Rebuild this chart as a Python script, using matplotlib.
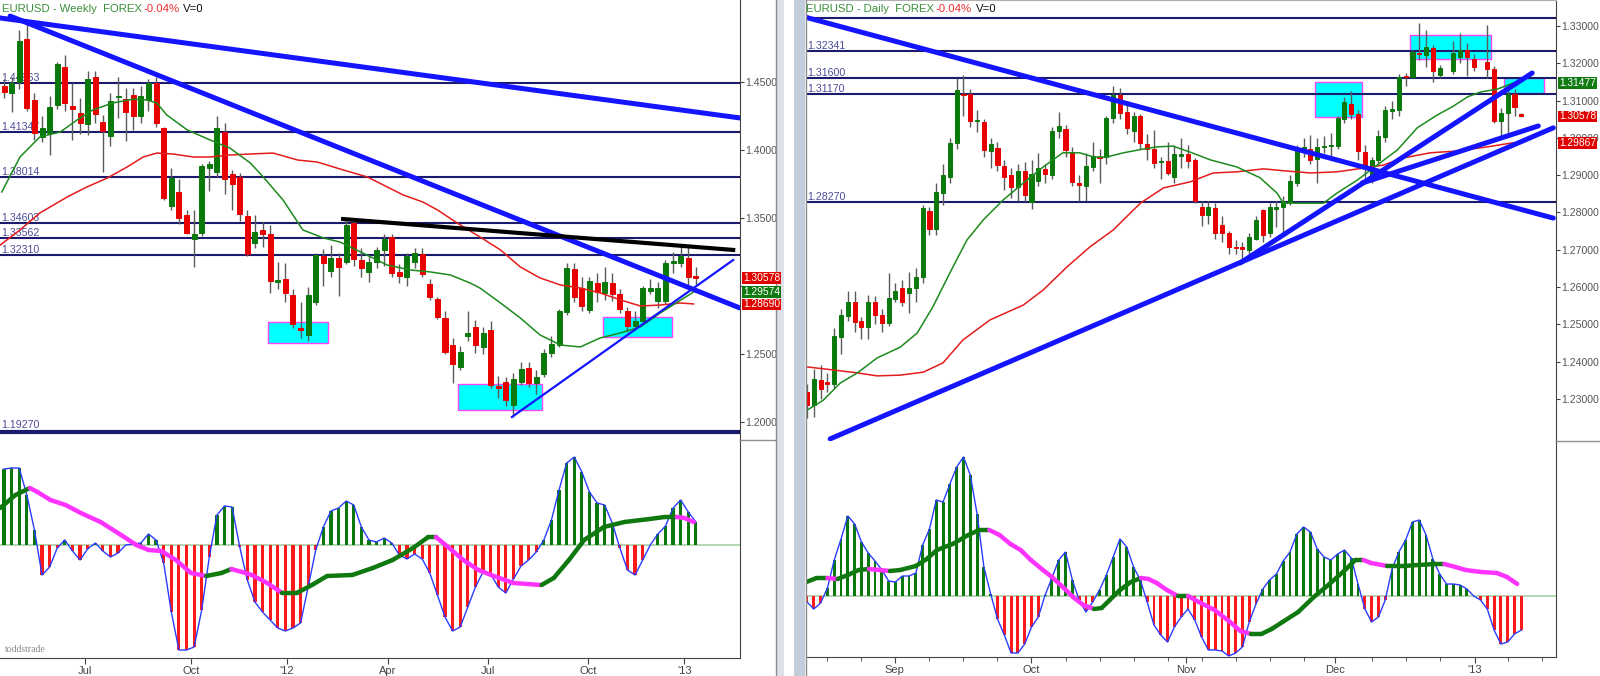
import numpy as np
import matplotlib.pyplot as plt
from matplotlib.collections import LineCollection
from matplotlib.patches import Rectangle
from matplotlib.lines import Line2D

plt.rcParams['font.family'] = ['Liberation Sans', 'DejaVu Sans']

nan = float('nan')

# ---------------- weekly EURUSD (Apr 2011 - Jan 2013) ----------------
wk_open = [1.4471, 1.4419, 1.4500, 1.4816, 1.4368, 1.4096, 1.4125, 1.4331, 1.4611, 1.4324,
           1.4272, 1.4192, 1.4537, 1.4206, 1.4103, 1.4390, 1.4375, 1.4405, 1.4250, 1.4368,
           1.4493, 1.4162, 1.3589, 1.3692, 1.3523, 1.3346, 1.3390, 1.3868, 1.3839, 1.4133,
           1.3824, 1.3802, 1.3515, 1.3317, 1.3413, 1.3383, 1.3030, 1.3052, 1.2935, 1.2692,
           1.2641, 1.2883, 1.3221, 1.3111, 1.3207, 1.3177, 1.3464, 1.3192, 1.3104, 1.3177,
           1.3266, 1.3361, 1.3104, 1.3067, 1.3177, 1.3236, 1.3016, 1.2905, 1.2766, 1.2567,
           1.2406, 1.2634, 1.2700, 1.2553, 1.2678, 1.2266, 1.2295, 1.2126, 1.2295, 1.2398,
           1.2288, 1.2354, 1.2509, 1.2567, 1.2810, 1.3126, 1.2986, 1.2825, 1.3023, 1.2950,
           1.3023, 1.2942, 1.2817, 1.2707, 1.2744, 1.2964, 1.2891, 1.2891, 1.3170, 1.3170,
           1.3207, 1.3074]
wk_high = [1.4520, 1.4540, 1.4883, 1.4934, 1.4420, 1.4250, 1.4400, 1.4647, 1.4699, 1.4490,
           1.4383, 1.4581, 1.4581, 1.4260, 1.4420, 1.4540, 1.4456, 1.4456, 1.4470, 1.4520,
           1.4540, 1.4170, 1.3868, 1.3790, 1.3560, 1.3560, 1.3895, 1.3920, 1.4250, 1.4200,
           1.3850, 1.3830, 1.3560, 1.3520, 1.3470, 1.3450, 1.3180, 1.3170, 1.2980, 1.2880,
           1.2990, 1.3240, 1.3270, 1.3300, 1.3240, 1.3490, 1.3480, 1.3280, 1.3230, 1.3290,
           1.3380, 1.3380, 1.3160, 1.3240, 1.3280, 1.3280, 1.3050, 1.2920, 1.2820, 1.2620,
           1.2560, 1.2820, 1.2750, 1.2700, 1.2740, 1.2340, 1.2330, 1.2360, 1.2440, 1.2440,
           1.2380, 1.2540, 1.2630, 1.2830, 1.3170, 1.3170, 1.3070, 1.3070, 1.3100, 1.3140,
           1.3100, 1.2980, 1.2850, 1.2820, 1.3000, 1.3050, 1.3030, 1.3190, 1.3250, 1.3310,
           1.3300, 1.3140]
wk_low = [1.4380, 1.4280, 1.4450, 1.4290, 1.4074, 1.4060, 1.3964, 1.4300, 1.4290, 1.4074,
          1.4120, 1.4111, 1.4200, 1.3839, 1.4030, 1.4236, 1.4067, 1.4150, 1.4200, 1.4290,
          1.4170, 1.3630, 1.3560, 1.3460, 1.3380, 1.3141, 1.3370, 1.3700, 1.3800, 1.3680,
          1.3560, 1.3480, 1.3220, 1.3280, 1.3290, 1.2950, 1.2980, 1.2880, 1.2690, 1.2619,
          1.2600, 1.2860, 1.3000, 1.3070, 1.2930, 1.3160, 1.3150, 1.3070, 1.3030, 1.3130,
          1.3150, 1.3070, 1.3020, 1.3000, 1.3130, 1.3070, 1.2900, 1.2760, 1.2500, 1.2288,
          1.2380, 1.2600, 1.2510, 1.2500, 1.2250, 1.2180, 1.2120, 1.2040, 1.2270, 1.2260,
          1.2210, 1.2330, 1.2480, 1.2550, 1.2790, 1.2880, 1.2820, 1.2800, 1.2880, 1.2900,
          1.2890, 1.2800, 1.2660, 1.2680, 1.2730, 1.2940, 1.2840, 1.2870, 1.3100, 1.3140,
          1.2990, 1.3000]
wk_close = [1.4427, 1.4493, 1.4802, 1.4309, 1.4125, 1.4162, 1.4317, 1.4633, 1.4346, 1.4302,
            1.4199, 1.4522, 1.4265, 1.4140, 1.4361, 1.4397, 1.4280, 1.4250, 1.4397, 1.4493,
            1.4199, 1.3648, 1.3795, 1.3501, 1.3390, 1.3383, 1.3883, 1.3898, 1.4162, 1.3787,
            1.3751, 1.3530, 1.3236, 1.3398, 1.3383, 1.3038, 1.3045, 1.2950, 1.2722, 1.2678,
            1.2935, 1.3229, 1.3170, 1.3207, 1.3141, 1.3449, 1.3199, 1.3133, 1.3177, 1.3266,
            1.3346, 1.3096, 1.3074, 1.3221, 1.3243, 1.3089, 1.2920, 1.2773, 1.2516, 1.2428,
            1.2516, 1.2656, 1.2567, 1.2656, 1.2273, 1.2251, 1.2163, 1.2317, 1.2391, 1.2288,
            1.2332, 1.2509, 1.2575, 1.2817, 1.3133, 1.2920, 1.2854, 1.3038, 1.2957, 1.3030,
            1.2942, 1.2832, 1.2707, 1.2744, 1.2986, 1.2986, 1.2986, 1.3170, 1.3184, 1.3221,
            1.3067, 1.3058]

# moving averages (at these bar positions)
wk_ma_fast_x = [-0.3, 2.1, 4.7, 7.4, 9.6, 11.7, 14.3, 17.0, 18.8, 20.1, 21.4, 24.1, 27.1, 29.7,
                32.4, 34.1, 36.7, 39.3, 42.0, 44.2, 47.2, 50.4, 53.4, 56.1, 58.7, 61.3, 62.6,
                65.3, 67.9, 70.5, 73.2, 75.8, 78.4, 81.1, 83.7, 86.3, 88.6, 90.7]
wk_ma_fast = [1.3692, 1.3949, 1.4096, 1.4133, 1.4221, 1.4295, 1.4346, 1.4375, 1.4368, 1.4346,
              1.4258, 1.4148, 1.4074, 1.4015, 1.3905, 1.3802, 1.3633, 1.3413, 1.3354, 1.3324,
              1.3243, 1.3155, 1.3119, 1.3104, 1.3082, 1.3023, 1.2986, 1.2876, 1.2766, 1.2641,
              1.2567, 1.2553, 1.2619, 1.2656, 1.2700, 1.2802, 1.2883, 1.2957]
wk_ma_slow_x = [-0.5, 2.1, 4.7, 8.3, 10.9, 13.6, 16.2, 18.3, 20.1, 22.2, 24.9, 27.1, 29.7, 32.4,
                35.4, 38.6, 41.2, 44.6, 47.8, 50.4, 52.5, 55.1, 57.0, 59.6, 62.6, 65.3, 67.9,
                70.5, 73.2, 75.8, 78.4, 81.1, 83.7, 86.3, 88.9, 90.7]
wk_ma_slow = [1.3302, 1.3413, 1.3537, 1.3655, 1.3729, 1.3795, 1.3876, 1.3949, 1.3978, 1.3971,
              1.3949, 1.3949, 1.3964, 1.3971, 1.3978, 1.3927, 1.3912, 1.3854, 1.3802, 1.3729,
              1.3670, 1.3618, 1.3560, 1.3464, 1.3361, 1.3266, 1.3141, 1.3060, 1.3008, 1.2986,
              1.2950, 1.2898, 1.2854, 1.2861, 1.2876, 1.2869]

wk_hist = [76, 77, 77, 50, 15, -30, -22, -3, 5, -6,
           -15, -4, 2, -6, -12, -8, 0, 1, 2, 11,
           5, -18, -67, -105, -105, -102, -65, -12, 30, 39,
           38, -2, -35, -57, -67, -75, -83, -86, -83, -78,
           -42, -5, 18, 34, 37, 44, 40, 18, 5, 3,
           7, 2, -10, -14, -9, -14, -28, -50, -72, -86,
           -82, -62, -42, -27, -29, -42, -48, -34, -21, -15,
           -7, 5, 25, 55, 82, 88, 73, 53, 42, 40,
           22, -3, -25, -30, -15, 0, 11, 19, 37, 45,
           33, 23]
wk_sig_x = [-0.5, 1.5, 3.4, 4.4, 6.1, 8.1, 10.1, 12.7, 15.4, 17.4, 19.0, 20.7, 22.6, 24.6, 26.6,
            28.6, 29.9, 31.3, 32.6, 34.6, 36.6, 38.5, 40.5, 42.5, 45.8, 48.5, 51.1, 53.8, 55.8,
            56.8, 58.4, 60.4, 62.4, 64.4, 67.0, 70.7, 72.3, 74.3, 76.3, 78.9, 81.6, 84.9, 86.9,
            88.5, 89.5, 90.7]
wk_sig = [37, 50, 57, 53, 45, 40, 32, 23, 10, 0, -5, -6, -15, -28, -31,
          -28, -24, -27, -30, -38, -48, -48, -40, -31, -30, -23, -15, -3, 8,
          8, -2, -15, -25, -31, -38, -40, -33, -15, 5, 18, 23, 26, 28,
          28, 27, 23]

wk_levels = [1.44963, 1.41347, 1.38014, 1.34603, 1.33562, 1.32310]
wk_floor = 1.19270
wk_thick_lines = [((-0.53, 1.4971), (96.8, 1.4236)), ((0.8, 1.4985), (96.8, 1.2839))]
wk_black_line = ((44.6, 1.3493), (95.9, 1.3266))
wk_thin_line = ((66.8, 1.2038), (95.9, 1.3192))
wk_boxes = [(34.7, 42.6, 1.2582, 1.2736), (59.7, 70.8, 1.2090, 1.2281), (78.8, 87.8, 1.2626, 1.2773)]
wk_tags = [(1.30578, '#e00000'), (1.29574, '#0f7a0f'), (1.28690, '#e00000')]
wk_yticks = [1.20, 1.25, 1.30, 1.35, 1.40, 1.45]
wk_ytick_lab = ['1.20000', '1.25000', '', '1.35000', '1.40000', '1.45000']
wk_tick_pos = [10.7, 24.6, 37.2, 50.5, 63.7, 76.8, 89.5]
wk_tick_lab = ['Jul', 'Oct', "'12", 'Apr', 'Jul', 'Oct', "'13"]

# ---------------- daily EURUSD (Aug 2012 - Jan 2013) ----------------
dl_open = [1.2319, 1.2284, 1.2351, 1.2346, 1.2340, 1.2466, 1.2523, 1.2560, 1.2509, 1.2493,
           1.2560, 1.2525, 1.2504, 1.2568, 1.2598, 1.2584, 1.2598, 1.2627, 1.2804, 1.2756,
           1.2852, 1.2895, 1.2986, 1.3118, 1.3118, 1.3045, 1.3043, 1.2965, 1.2973, 1.2925,
           1.2901, 1.2868, 1.2911, 1.2828, 1.2885, 1.2917, 1.2901, 1.3019, 1.3024, 1.2962,
           1.2879, 1.2871, 1.2922, 1.2949, 1.2949, 1.3053, 1.3114, 1.3070, 1.3019, 1.3059,
           1.2984, 1.2970, 1.2935, 1.2938, 1.2895, 1.2951, 1.2957, 1.2941, 1.2815, 1.2793,
           1.2812, 1.2766, 1.2745, 1.2708, 1.2708, 1.2699, 1.2729, 1.2807, 1.2745, 1.2809,
           1.2815, 1.2828, 1.2879, 1.2970, 1.2970, 1.2943, 1.2976, 1.2978, 1.2978, 1.3051,
           1.3091, 1.3064, 1.2962, 1.2887, 1.2941, 1.3002, 1.3072, 1.3075, 1.3166, 1.3164,
           1.3228, 1.3222, 1.3241, 1.3169, nan, 1.3179, 1.3217, 1.3236, 1.3212, nan,
           1.3203, 1.3185, 1.3045, 1.3067, 1.3118, 1.3064]
dl_high = [1.2340, 1.2380, 1.2390, 1.2370, 1.2490, 1.2540, 1.2590, 1.2590, 1.2520, 1.2580,
           1.2575, 1.2540, 1.2638, 1.2610, 1.2620, 1.2640, 1.2650, 1.2820, 1.2815, 1.2880,
           1.2930, 1.3000, 1.3160, 1.3169, 1.3130, 1.3075, 1.3050, 1.3000, 1.2990, 1.2940,
           1.2920, 1.2930, 1.2935, 1.2940, 1.2960, 1.2930, 1.3030, 1.3070, 1.3035, 1.2975,
           1.2900, 1.2960, 1.2990, 1.2970, 1.3060, 1.3140, 1.3135, 1.3100, 1.3070, 1.3065,
           1.3010, 1.3020, 1.2950, 1.2990, 1.2980, 1.3000, 1.2980, 1.2945, 1.2830, 1.2830,
           1.2825, 1.2790, 1.2750, 1.2725, 1.2720, 1.2745, 1.2790, 1.2810, 1.2825, 1.2830,
           1.2845, 1.2900, 1.2980, 1.3000, 1.3008, 1.3000, 1.3005, 1.3013, 1.3060, 1.3110,
           1.3126, 1.3075, 1.2980, 1.2950, 1.3020, 1.3085, 1.3100, 1.3170, 1.3175, 1.3235,
           1.3308, 1.3290, 1.3250, 1.3195, nan, 1.3260, 1.3280, 1.3255, 1.3225, nan,
           1.3303, 1.3192, 1.3080, 1.3135, 1.3130, 1.3066]
dl_low = [1.2250, 1.2252, 1.2300, 1.2320, 1.2330, 1.2420, 1.2510, 1.2480, 1.2460, 1.2460,
          1.2500, 1.2480, 1.2495, 1.2560, 1.2550, 1.2530, 1.2560, 1.2610, 1.2740, 1.2740,
          1.2820, 1.2880, 1.2970, 1.3060, 1.3030, 1.3015, 1.2950, 1.2920, 1.2910, 1.2860,
          1.2840, 1.2830, 1.2830, 1.2810, 1.2870, 1.2880, 1.2890, 1.3000, 1.2950, 1.2870,
          1.2830, 1.2830, 1.2910, 1.2880, 1.2930, 1.3040, 1.3050, 1.3010, 1.2990, 1.2970,
          1.2940, 1.2920, 1.2890, 1.2900, 1.2880, 1.2920, 1.2920, 1.2825, 1.2765, 1.2770,
          1.2730, 1.2720, 1.2690, 1.2690, 1.2667, 1.2690, 1.2725, 1.2720, 1.2735, 1.2760,
          1.2740, 1.2820, 1.2870, 1.2950, 1.2930, 1.2879, 1.2960, 1.2940, 1.2970, 1.3040,
          1.3050, 1.2940, 1.2880, 1.2880, 1.2930, 1.2990, 1.3050, 1.3060, 1.3140, 1.3160,
          1.3210, 1.3190, 1.3150, 1.3160, nan, 1.3170, 1.3200, 1.3165, 1.3180, nan,
          1.3160, 1.3040, 1.3005, 1.3010, 1.3060, 1.3056]
dl_close = [1.2284, 1.2354, 1.2327, 1.2340, 1.2469, 1.2525, 1.2560, 1.2506, 1.2493, 1.2560,
            1.2525, 1.2504, 1.2571, 1.2590, 1.2560, 1.2598, 1.2627, 1.2812, 1.2756, 1.2855,
            1.2901, 1.2986, 1.3128, 1.3114, 1.3045, 1.3048, 1.2968, 1.2984, 1.2927, 1.2895,
            1.2868, 1.2911, 1.2847, 1.2903, 1.2919, 1.2903, 1.3019, 1.3032, 1.2968, 1.2882,
            1.2874, 1.2925, 1.2951, 1.2946, 1.3053, 1.3114, 1.3067, 1.3027, 1.3059, 1.2986,
            1.2970, 1.2933, 1.2938, 1.2906, 1.2957, 1.2957, 1.2938, 1.2831, 1.2793, 1.2815,
            1.2745, 1.2745, 1.2708, 1.2705, 1.2702, 1.2734, 1.2780, 1.2740, 1.2815, 1.2815,
            1.2831, 1.2885, 1.2970, 1.2976, 1.2941, 1.2976, 1.2978, 1.2981, 1.3053, 1.3096,
            1.3064, 1.2965, 1.2925, 1.2941, 1.3005, 1.3075, 1.3077, 1.3164, 1.3164, 1.3230,
            1.3225, 1.3244, 1.3179, 1.3187, nan, 1.3228, 1.3236, 1.3217, 1.3190, nan,
            1.3185, 1.3045, 1.3067, 1.3118, 1.3083, 1.3058]

dl_ma_fast_x = [0.0, 2.4, 4.9, 7.4, 10.3, 13.7, 16.2, 18.5, 21.0, 23.5, 25.9, 28.8, 31.8, 34.7,
                37.6, 40.1, 42.1, 44.1, 46.5, 49.4, 51.5, 53.8, 56.3, 59.3, 63.2, 66.6, 69.1,
                70.0, 72.9, 75.9, 77.9, 80.9, 83.8, 86.8, 89.7, 92.6, 95.0, 97.1, 99.0, 101.5, 103.8]
dl_ma_fast = [1.2270, 1.2297, 1.2343, 1.2370, 1.2410, 1.2439, 1.2477, 1.2547, 1.2638, 1.2726,
              1.2780, 1.2833, 1.2879, 1.2922, 1.2960, 1.2960, 1.2949, 1.2949, 1.2960, 1.2970,
              1.2976, 1.2978, 1.2962, 1.2941, 1.2922, 1.2893, 1.2852, 1.2825, 1.2825, 1.2825,
              1.2852, 1.2887, 1.2927, 1.2968, 1.3027, 1.3061, 1.3085, 1.3110, 1.3123, 1.3131, 1.3147]
dl_ma_slow_x = [0.0, 3.8, 7.4, 10.3, 13.7, 17.1, 20.0, 22.9, 26.9, 31.8, 34.7, 38.2, 41.6, 45.0,
                49.0, 52.4, 56.3, 59.7, 63.2, 67.1, 70.6, 74.0, 77.9, 81.8, 84.7, 87.6, 91.6,
                95.6, 100.0, 103.8]
dl_ma_slow = [1.2386, 1.2378, 1.2370, 1.2362, 1.2364, 1.2372, 1.2397, 1.2458, 1.2512, 1.2552,
              1.2592, 1.2654, 1.2708, 1.2753, 1.2825, 1.2866, 1.2882, 1.2906, 1.2909, 1.2917,
              1.2911, 1.2906, 1.2909, 1.2919, 1.2927, 1.2946, 1.2960, 1.2965, 1.2976, 1.2987]

dl_hist = [-6, -13, -7, 8, 36, 57, 80, 72, 54, 43,
           35, 26, 15, 14, 20, 20, 23, 51, 67, 96,
           94, 112, 129, 139, 121, 82, 29, 2, -23, -39,
           -57, -57, -48, -31, -21, 1, 18, 36, 44, 16,
           -4, -16, -6, 6, 21, 39, 57, 49, 29, 16,
           -6, -29, -39, -46, -31, -21, -13, -24, -41, -54,
           -54, -55, -60, -57, -51, -26, -8, 7, 16, 22,
           35, 44, 62, 69, 64, 47, 39, 36, 42, 46,
           38, 12, -13, -26, -21, -4, 27, 44, 56, 74,
           76, 61, 37, 22, 12, 12, 11, 7, 0, -4,
           -13, -34, -48, -46, -38, -34]
dl_sig_x = [-0.1, 1.4, 3.0, 4.5, 6.0, 7.6, 9.1, 10.6, 12.2, 13.7, 16.0, 17.6, 19.1, 21.4, 23.7,
            25.3, 26.8, 28.3, 29.9, 31.4, 32.9, 34.5, 36.0, 37.6, 39.1, 40.6, 42.2, 43.3, 44.5,
            46.0, 47.6, 49.1, 50.2, 51.4, 52.9, 54.5, 56.0, 57.6, 59.9, 62.2, 63.7, 65.3, 66.8,
            68.3, 69.9, 72.2, 74.5, 76.8, 79.1, 80.6, 81.8, 82.9, 85.3, 87.6, 89.9, 92.2, 93.7,
            95.3, 96.8, 99.1, 101.4, 102.9, 104.4]
dl_sig = [14, 18, 18, 17, 21, 26, 27, 26, 25, 26, 30, 37, 46, 52, 61,
          66, 66, 61, 52, 46, 36, 27, 19, 9, -1, -9, -13, -12, -4,
          6, 14, 18, 17, 13, 6, 0, 0, -6, -14, -26, -35, -38, -38,
          -33, -26, -16, -1, 12, 26, 36, 36, 33, 30, 30, 31, 32, 32,
          29, 26, 24, 23, 19, 12]

dl_levels = [1.32341, 1.31600, 1.31170, 1.28270]
dl_top_level = 1.33210
dl_thick_lines = [((-0.3, 1.3324), (109.7, 1.2785)), ((3.4, 1.2193), (109.7, 1.3027)),
                  ((63.7, 1.2665), (106.6, 1.3174)), ((81.6, 1.2879), (107.5, 1.3032))]
dl_boxes = [(74.7, 81.6, 1.3056, 1.3150), (88.7, 100.6, 1.3212, 1.3276), (102.5, 108.4, 1.3120, 1.3161)]
dl_tags = [(1.31477, '#0f7a0f'), (1.30578, '#e00000'), (1.29867, '#e00000')]
dl_yticks = [1.23, 1.24, 1.25, 1.26, 1.27, 1.28, 1.29, 1.30, 1.31, 1.32, 1.33]
dl_tick_pos = [12.9, 32.9, 55.7, 77.6, 98.2]
dl_tick_lab = ['Sep', 'Oct', 'Nov', 'Dec', "'13"]
dl_minor_pos = [3, 8, 18, 23, 28, 38, 43, 48, 53, 58, 63, 68, 73, 83, 88, 93, 103, 108]

# ---------------- styling ----------------
UP = '#0a780a'
DOWN = '#e80000'
WICK = '#5a5a5a'
LEVEL = '#1b1b6e'
LEVEL_TXT = '#4d4d99'
TREND = '#1414ff'
SIG_UP = '#0f780f'
SIG_DN = '#ff33ff'
OUTLINE = '#2a3cff'
AXIS_TXT = '#555555'

W, H = 1600, 676
fig = plt.figure(figsize=(16, 6.76), dpi=100)
fig.patch.set_facecolor('white')


def px_box(x0, y0, x1, y1):
    return [x0 / W, 1 - y1 / H, (x1 - x0) / W, (y1 - y0) / H]


def fig_line(x0, y0, x1, y1, color, lw):
    fig.add_artist(Line2D([x0 / W, x1 / W], [1 - y0 / H, 1 - y1 / H],
                          transform=fig.transFigure, color=color, lw=lw))


def draw_candles(ax, o, h, l, c, width):
    o, h, l, c = (np.array(a, dtype=float) for a in (o, h, l, c))
    x = np.arange(len(o))
    ok = ~np.isnan(o)
    x, o, h, l, c = x[ok], o[ok], h[ok], l[ok], c[ok]
    cols = [UP if cc >= oo else DOWN for oo, cc in zip(o, c)]
    ax.vlines(x, l, h, color=WICK, lw=1, zorder=3)
    ax.bar(x, c - o, bottom=o, width=width, color=cols, edgecolor=cols, linewidth=0.7, zorder=3)


def draw_tags(ax, tags, x_px):
    # price tags on the axis, nudged apart so the boxes stack like the terminal does
    prev = None
    for val, col in tags:
        y = ax.transData.transform((0, val))[1]
        if prev is not None and y > prev - 12.5:
            y = prev - 12.5
        prev = y
        fig.text(x_px / W, y / H, f'{val:.5f}', ha='left', va='center', fontsize=7.4,
                 color='white', zorder=10,
                 bbox=dict(boxstyle='square,pad=0.08', fc=col, ec='none'))


def draw_price(ax, levels, boxes):
    for x0, x1, y0, y1 in boxes:
        ax.add_patch(Rectangle((x0, y0), x1 - x0, y1 - y0, facecolor='#00ffff',
                               edgecolor='#ff44ff', lw=1, zorder=1))
    for lv in levels:
        ax.axhline(lv, color=LEVEL, lw=1.5, zorder=2)
        ax.text(0.002, lv, f'{lv:.5f}', transform=ax.get_yaxis_transform(),
                ha='left', va='bottom', fontsize=7.7, color=LEVEL_TXT, zorder=2)
    ax.yaxis.tick_right()
    ax.tick_params(axis='y', direction='out', length=3, pad=1, labelsize=7.6,
                   colors='#444444', labelcolor=AXIS_TXT)
    ax.set_xticks([])
    for s in ('left', 'top', 'bottom'):
        ax.spines[s].set_visible(False)
    ax.spines['right'].set_color('#444444')


def draw_osc(ax, hist, sx, sy, width):
    x = np.arange(len(hist))
    h = np.array(hist, dtype=float)
    cols = [UP if v >= 0 else '#ff1a1a' for v in h]
    ax.axhline(0, color='#a8cfa8', lw=1.2, zorder=1)
    ax.bar(x, h, width=width, color=cols, linewidth=0, zorder=2)
    ax.plot(x, h, color=OUTLINE, lw=1, zorder=3)
    pts = np.column_stack([sx, sy])
    segs = np.stack([pts[:-1], pts[1:]], axis=1)
    scol = [SIG_UP if b[1] >= a[1] else SIG_DN for a, b in zip(pts[:-1], pts[1:])]
    ax.add_collection(LineCollection(segs, colors=scol, linewidths=3.2,
                                     capstyle='round', zorder=4))
    ax.set_yticks([])
    ax.spines['left'].set_visible(False)
    ax.spines['top'].set_visible(False)
    ax.spines['right'].set_color('#444444')
    ax.spines['bottom'].set_color('#444444')
    ax.tick_params(axis='x', direction='out', length=4, labelsize=8, colors='#444444',
                   labelcolor='#444444', pad=2)


# ---------------- weekly panel ----------------
ax_wp = fig.add_axes(px_box(0, 0, 740, 440))
ax_wo = fig.add_axes(px_box(0, 440, 740, 658))
draw_price(ax_wp, wk_levels, wk_boxes)
ax_wp.axhline(wk_floor, color=LEVEL, lw=3, zorder=2)
ax_wp.text(0.002, wk_floor + 0.0015, f'{wk_floor:.5f}', transform=ax_wp.get_yaxis_transform(),
           ha='left', va='bottom', fontsize=7.7, color=LEVEL_TXT)
ax_wp.plot(wk_ma_slow_x, wk_ma_slow, color='#e51c1c', lw=1.1, zorder=3.5)
ax_wp.plot(wk_ma_fast_x, wk_ma_fast, color='#1d8a1d', lw=1.1, zorder=3.5)
draw_candles(ax_wp, wk_open, wk_high, wk_low, wk_close, 0.66)
for (x0, y0), (x1, y1) in wk_thick_lines:
    ax_wp.plot([x0, x1], [y0, y1], color=TREND, lw=3.6, solid_capstyle='round', zorder=5)
(bx0, by0), (bx1, by1) = wk_black_line
ax_wp.plot([bx0, bx1], [by0, by1], color='black', lw=3, zorder=5)
(tx0, ty0), (tx1, ty1) = wk_thin_line
ax_wp.plot([tx0, tx1], [ty0, ty1], color=TREND, lw=1.6, zorder=5)
ax_wp.set_xlim(-0.53, 96.8)
ax_wp.set_ylim(1.1869, 1.5103)
ax_wp.set_yticks(wk_yticks)
ax_wp.set_yticklabels(wk_ytick_lab)

draw_osc(ax_wo, wk_hist, wk_sig_x, wk_sig, 0.42)
ax_wo.set_xlim(-0.53, 96.8)
ax_wo.set_ylim(-113, 105)
ax_wo.set_xticks(wk_tick_pos)
ax_wo.set_xticklabels(wk_tick_lab)

# ---------------- daily panel ----------------
ax_dp = fig.add_axes(px_box(806, 0, 1556, 441))
ax_do = fig.add_axes(px_box(806, 441, 1556, 657))
draw_price(ax_dp, dl_levels, dl_boxes)
ax_dp.axhline(dl_top_level, color=LEVEL, lw=1.5, zorder=2)
ax_dp.plot(dl_ma_slow_x, dl_ma_slow, color='#e51c1c', lw=1.1, zorder=3.5)
ax_dp.plot(dl_ma_fast_x, dl_ma_fast, color='#1d8a1d', lw=1.1, zorder=3.5)
draw_candles(ax_dp, dl_open, dl_high, dl_low, dl_close, 0.6)
for (x0, y0), (x1, y1) in dl_thick_lines:
    ax_dp.plot([x0, x1], [y0, y1], color=TREND, lw=3.6, solid_capstyle='round', zorder=5)
ax_dp.set_xlim(-0.15, 110.1)
ax_dp.set_ylim(1.21874, 1.33697)
ax_dp.set_yticks(dl_yticks)
ax_dp.yaxis.set_major_formatter(plt.FuncFormatter(lambda v, p: f'{v:.5f}'))
ax_dp.spines['top'].set_visible(True)
ax_dp.spines['top'].set_color('#b0b0b0')

draw_osc(ax_do, dl_hist, dl_sig_x, dl_sig, 0.42)
ax_do.set_xlim(-0.15, 110.1)
ax_do.set_ylim(-61, 155)
ax_do.set_xticks(dl_tick_pos)
ax_do.set_xticklabels(dl_tick_lab)
ax_do.set_xticks(dl_minor_pos, minor=True)
ax_do.tick_params(axis='x', which='minor', length=3, colors='#444444')

# price tags on the right axes
draw_tags(ax_wp, wk_tags, 743)
draw_tags(ax_dp, dl_tags, 1559)

# panel separators and label-area rules
fig_line(740, 440, 775, 440, '#909090', 1)
fig_line(1556, 441, 1600, 441, '#909090', 1)
fig.add_artist(Rectangle((776 / W, 0), 8 / W, 1, transform=fig.transFigure,
                         facecolor='#dde2ea', edgecolor='none'))
fig.add_artist(Rectangle((794 / W, 0), 11 / W, 1, transform=fig.transFigure,
                         facecolor='#c3cedd', edgecolor='none'))
fig_line(775.5, 0, 775.5, 676, '#8a8a8a', 1)
fig_line(805.5, 0, 805.5, 676, '#8a8a8a', 1)

# headers
for x0, name, off in ((2, 'Weekly', 135), (806, 'Daily', 124)):
    fig.text(x0 / W, 1 - 9 / H, f'EURUSD - {name}  FOREX', fontsize=8.2, color='#3d8f3d',
             va='center', ha='left')
    fig.text((x0 + off + 6) / W, 1 - 9 / H, '-0.04%', fontsize=8.2, color='#f03030',
             va='center', ha='left')
    fig.text((x0 + off + 46) / W, 1 - 9 / H, 'V=0', fontsize=8.2, color='#111111',
             va='center', ha='left')

fig.text(5 / W, 1 - 650 / H, 'toddstrade', fontsize=7, color='#8a8a8a',
         family=['Liberation Serif', 'DejaVu Serif'], va='center')

fig.savefig('out.png', dpi=100, facecolor='white')
